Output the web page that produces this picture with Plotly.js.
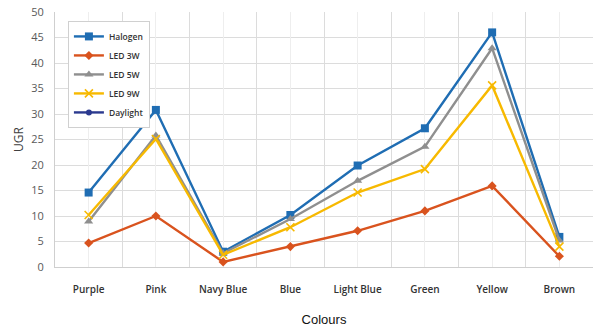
<!DOCTYPE html>
<html>
<head>
<meta charset="utf-8">
<script src="https://cdn.plot.ly/plotly-3.0.1.min.js"></script>
<style>
  html, body { margin: 0; padding: 0; background: #ffffff; }
  #chart { width: 594px; height: 333px; }
</style>
</head>
<body>
<div id="chart"></div>
<script>
// Glare rating (UGR) per colour for each light source
const colours = ["Purple", "Pink", "Navy Blue", "Blue", "Light Blue", "Green", "Yellow", "Brown"];
const halogen = [14.6, 30.8, 3.0, 10.2, 19.9, 27.2, 46.0, 5.9];
const led3w   = [4.7, 10.0, 1.0, 4.0, 7.1, 11.0, 15.9, 2.1];
const led5w   = [8.9, 25.8, 2.7, 9.4, 16.9, 23.6, 42.9, 5.2];
const led9w   = [10.2, 25.1, 2.4, 7.8, 14.6, 19.2, 35.6, 4.0];
const daylight = [null, null, null, null, null, null, null, null];
const yTicks = [0, 5, 10, 15, 20, 25, 30, 35, 40, 45, 50];

function series(name, values, color, symbol, size, extra) {
  return Object.assign({
    type: "scatter",
    mode: "lines+markers",
    name: name,
    x: colours,
    y: values,
    line: { color: color, width: 2.4 },
    marker: { color: color, symbol: symbol, size: size, line: { color: color, width: 0 } },
    connectgaps: false
  }, extra || {});
}

const traces = [
  series("Halogen", halogen, "#1f6db3", "square", 8),
  series("LED 3W", led3w, "#d9531e", "diamond", 7),
  series("LED 5W", led5w, "#8f8f8f", "triangle-up", 8),
  series("LED 9W", led9w, "#f7b900", "x-thin", 8,
    { marker: { color: "#f7b900", symbol: "x-thin", size: 8, line: { color: "#f7b900", width: 1.6 } } }),
  series("Daylight", daylight, "#2b3a8f", "circle", 6),
  // carries the secondary axis that draws gridlines through each category centre
  { type: "scatter", mode: "markers", x: colours, y: halogen, xaxis: "x2",
    marker: { opacity: 0 }, showlegend: false, hoverinfo: "skip" }
];

const layout = {
  width: 594,
  height: 333,
  margin: { l: 55, r: 1, t: 12, b: 66 },
  paper_bgcolor: "#ffffff",
  plot_bgcolor: "#ffffff",
  font: { family: "Liberation Sans, Arial, sans-serif", color: "#404040" },
  showlegend: true,
  legend: {
    x: 0.024, y: 0.965, xanchor: "left", yanchor: "top",
    bgcolor: "#ffffff",
    bordercolor: "#d0d0d0",
    borderwidth: 1,
    font: { size: 8.5, color: "#333333", family: "Open Sans, sans-serif", weight: 600 },
    tracegroupgap: 0,
    itemwidth: 30
  },
  xaxis: {
    type: "category",
    categoryorder: "array",
    categoryarray: colours,
    range: [-0.5, colours.length - 0.5],
    tickson: "boundaries",
    showgrid: true,
    gridcolor: "#dcdcdc",
    gridwidth: 1,
    ticks: "",
    showline: true,
    linecolor: "#cfcfcf",
    linewidth: 1,
    zeroline: false,
    ticklabelstandoff: 13,
    tickfont: { size: 10, color: "#333333", family: "Open Sans, sans-serif", weight: 600 },
    title: { text: "Colours", font: { size: 13, color: "#111111", family: "Liberation Sans Narrow, Liberation Sans, sans-serif" }, standoff: 19 }
  },
  xaxis2: {
    type: "category",
    categoryorder: "array",
    categoryarray: colours,
    overlaying: "x",
    matches: "x",
    range: [-0.5, colours.length - 0.5],
    showgrid: true,
    gridcolor: "#eeeeee",
    gridwidth: 1,
    showticklabels: false,
    ticks: "",
    showline: false,
    zeroline: false
  },
  yaxis: {
    range: [0, 50],
    tickvals: yTicks,
    ticktext: yTicks.map(String),
    showgrid: true,
    gridcolor: "#dcdcdc",
    gridwidth: 1,
    showline: true,
    linecolor: "#cfcfcf",
    linewidth: 1,
    zeroline: false,
    ticks: "",
    ticklabelstandoff: 8,
    tickfont: { size: 11, color: "#595959", family: "Open Sans, sans-serif" },
    title: { text: "UGR", font: { size: 12, color: "#404040", family: "Open Sans, sans-serif" }, standoff: 5 }
  }
};

Plotly.newPlot("chart", traces, layout, { displayModeBar: false, staticPlot: true });
</script>
</body>
</html>
